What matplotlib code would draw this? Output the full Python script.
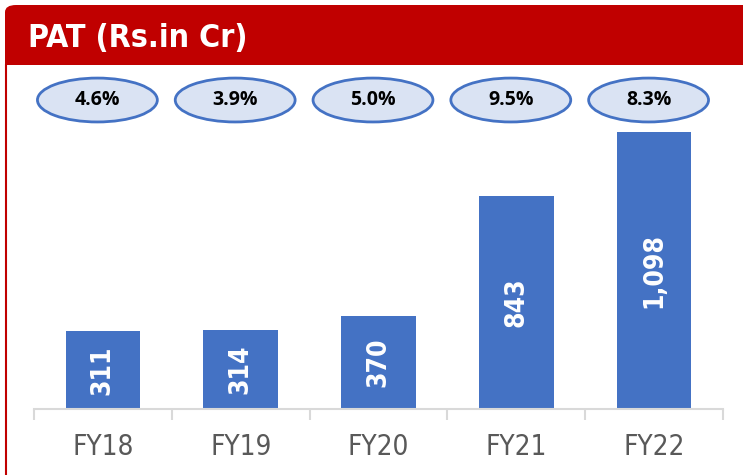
import numpy as np
import matplotlib.pyplot as plt
from matplotlib.patches import Ellipse, FancyBboxPatch, Rectangle
from matplotlib.lines import Line2D

years = ['FY18', 'FY19', 'FY20', 'FY21', 'FY22']
pat = [311, 314, 370, 843, 1098]
margin = ['4.6%', '3.9%', '5.0%', '9.5%', '8.3%']

W, H = 743, 475
cond = dict(family='DejaVu Sans', stretch='condensed')

fig = plt.figure(figsize=(W / 100, H / 100), dpi=100)

# header band
red = '#C00000'
fig.patches.append(FancyBboxPatch((5 / W, (H - 65) / H), (W - 5) / W + 0.05, 60 / H,
                                  boxstyle='round,pad=0,rounding_size=0.015',
                                  transform=fig.transFigure, fc=red, ec='none'))
fig.patches.append(Rectangle((20 / W, (H - 65) / H), 1, 60 / H,
                             transform=fig.transFigure, fc=red, ec='none'))
fig.patches.append(Rectangle((5 / W, (H - 65) / H), 0.03, 0.03,
                             transform=fig.transFigure, fc=red, ec='none'))
fig.lines.append(Line2D([6 / W, 6 / W], [0, (H - 65) / H], transform=fig.transFigure,
                        color=red, lw=1.5))
fig.text(28 / W, (H - 38) / H, 'PAT (Rs.in Cr)', color='white', fontsize=23,
         fontweight='bold', va='center', ha='left', **cond)

ax = fig.add_axes([34 / W, (H - 409) / H, (723 - 34) / W, (409 - 70) / H])
x = np.arange(len(years))
ax.bar(x, pat, width=0.54, color='#4472C4', zorder=2)
ax.set_xlim(-0.5, 4.5)
ax.set_ylim(0, 1344)

for xi, v in zip(x, pat):
    ax.text(xi, v / 2, f'{v:,}', rotation=90, ha='center', va='center',
            color='white', fontsize=19, fontweight='bold', **cond)

for xi, m in zip(x, margin):
    ax.add_patch(Ellipse((xi - 0.04, 1225), 0.87, 174, fc='#DAE3F3', ec='#4472C4',
                         lw=2, clip_on=False, zorder=3))
    ax.text(xi - 0.04, 1225, m, ha='center', va='center', fontsize=14,
            fontweight='bold', family=['Open Sans', 'DejaVu Sans'], zorder=4)

for s in ['top', 'right', 'left']:
    ax.spines[s].set_visible(False)
ax.spines['bottom'].set_color('#D9D9D9')
ax.spines['bottom'].set_linewidth(1.5)
ax.set_yticks([])
ax.set_xticks(x)
ax.set_xticklabels(years, fontsize=20, color='#595959', **cond)
ax.tick_params(axis='x', which='major', length=0, pad=17)
ax.set_xticks(np.arange(-0.5, 5, 1), minor=True)
ax.tick_params(axis='x', which='minor', length=8, width=1.5, color='#D9D9D9')

fig.savefig('out.png', dpi=100)
